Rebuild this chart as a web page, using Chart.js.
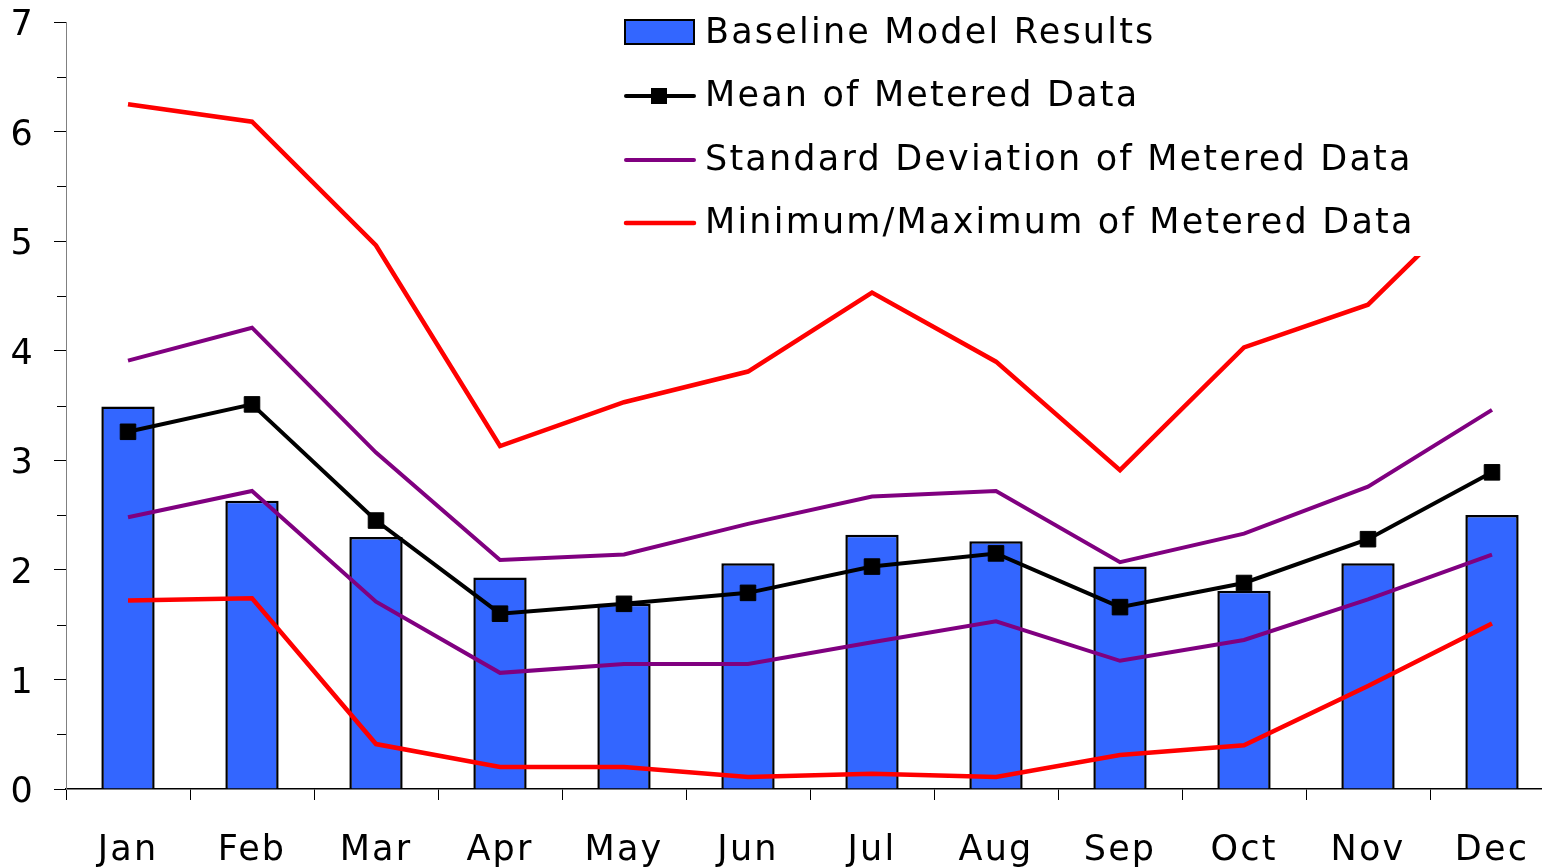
<!DOCTYPE html>
<html>
<head>
<meta charset="utf-8">
<title>Baseline model vs metered data</title>
<script src="https://cdn.jsdelivr.net/npm/chart.js@4.4.1/dist/chart.umd.min.js"></script>
<style>
  html, body { margin: 0; padding: 0; background: #fff; overflow: hidden; width: 1542px; height: 868px; }
  #wrap { position: absolute; left: 0; top: 0; }
</style>
</head>
<body>
<div id="wrap"><canvas id="chart" width="1566" height="868"></canvas></div>
<script>
// Monthly categories
const months = ['Jan', 'Feb', 'Mar', 'Apr', 'May', 'Jun', 'Jul', 'Aug', 'Sep', 'Oct', 'Nov', 'Dec'];

// Model output per month
const baselineModel = [3.49, 2.63, 2.30, 1.93, 1.69, 2.06, 2.32, 2.26, 2.03, 1.81, 2.06, 2.50];

// Metered data statistics per month
const meteredMean = [3.26, 3.51, 2.45, 1.60, 1.69, 1.79, 2.03, 2.15, 1.66, 1.88, 2.28, 2.89];
const stdUpper    = [3.91, 4.21, 3.07, 2.09, 2.14, 2.42, 2.67, 2.72, 2.07, 2.33, 2.76, 3.46];
const stdLower    = [2.48, 2.72, 1.71, 1.06, 1.14, 1.14, 1.34, 1.53, 1.17, 1.36, 1.73, 2.14];
const meteredMax  = [6.25, 6.09, 4.96, 3.13, 3.53, 3.81, 4.53, 3.90, 2.91, 4.03, 4.42, 5.53];
const meteredMin  = [1.72, 1.74, 0.41, 0.20, 0.20, 0.11, 0.14, 0.11, 0.31, 0.40, 0.94, 1.51];

// Value axis
const yMin = 0, yMax = 7, yStep = 1, yMinorStep = 0.5;

// Legend entries (one per series group)
const legendLabels = [
  'Baseline Model Results',
  'Mean of Metered Data',
  'Standard Deviation of Metered Data',
  'Minimum/Maximum of Metered Data'
];

const FONT = '"DejaVu Sans", Verdana, sans-serif';
const BLUE = '#3366FF', PURPLE = '#800080', RED = '#FF0000';

// Minor tick marks on the value axis
const minorTicks = {
  id: 'minorTicks',
  afterDraw(chart) {
    const y = chart.scales.y, ctx = chart.ctx;
    ctx.save();
    ctx.strokeStyle = '#000';
    ctx.lineWidth = 1;
    for (let v = yMin + yMinorStep; v < yMax; v += yStep) {
      const py = Math.round(y.getPixelForValue(v)) + 0.5;
      ctx.beginPath();
      ctx.moveTo(y.right - 9, py);
      ctx.lineTo(y.right, py);
      ctx.stroke();
    }
    ctx.restore();
  }
};

// Letter spacing for tick labels
const spacing = {
  id: 'spacing',
  beforeDraw(chart) { chart.ctx.letterSpacing = '2.2px'; }
};

// Boxed legend drawn over the upper plot area
const boxLegend = {
  id: 'boxLegend',
  afterDraw(chart) {
    const ctx = chart.ctx;
    const x0 = 615, rowY = [33, 96, 160, 223];
    ctx.save();
    ctx.letterSpacing = '2.2px';
    ctx.fillStyle = '#fff';
    ctx.fillRect(x0, 0, chart.width - x0, 256);

    // bar swatch
    ctx.fillStyle = BLUE;
    ctx.fillRect(625, 20, 69, 24);
    ctx.strokeStyle = '#000';
    ctx.lineWidth = 2;
    ctx.strokeRect(625, 20, 69, 24);

    // line swatches
    const lines = [[1, '#000', 4], [2, PURPLE, 4], [3, RED, 4.5]];
    lines.forEach(([r, c, w]) => {
      ctx.strokeStyle = c;
      ctx.lineWidth = w;
      ctx.lineCap = 'round';
      ctx.beginPath();
      ctx.moveTo(626, rowY[r]);
      ctx.lineTo(694, rowY[r]);
      ctx.stroke();
    });
    ctx.fillStyle = '#000';
    ctx.fillRect(651, rowY[1] - 8, 16, 16);

    ctx.fillStyle = '#000';
    ctx.font = '35px ' + FONT;
    ctx.textBaseline = 'middle';
    ctx.textAlign = 'left';
    legendLabels.forEach((t, i) => ctx.fillText(t, 705, rowY[i] + 1));
    ctx.restore();
  }
};

new Chart(document.getElementById('chart'), {
  data: {
    labels: months,
    datasets: [
      { type: 'line', label: legendLabels[1], data: meteredMean, order: 1,
        borderColor: '#000', borderWidth: 4, pointStyle: 'rect', pointRadius: 11,
        pointBackgroundColor: '#000', pointBorderColor: '#000', pointBorderWidth: 1, tension: 0 },
      { type: 'line', label: legendLabels[2], data: stdUpper, order: 2,
        borderColor: PURPLE, borderWidth: 4, pointRadius: 0, tension: 0 },
      { type: 'line', label: legendLabels[2], data: stdLower, order: 2,
        borderColor: PURPLE, borderWidth: 4, pointRadius: 0, tension: 0 },
      { type: 'line', label: legendLabels[3], data: meteredMax, order: 3,
        borderColor: RED, borderWidth: 4.5, pointRadius: 0, tension: 0 },
      { type: 'line', label: legendLabels[3], data: meteredMin, order: 3,
        borderColor: RED, borderWidth: 4.5, pointRadius: 0, tension: 0 },
      { type: 'bar', label: legendLabels[0], data: baselineModel, order: 4,
        backgroundColor: BLUE, borderColor: '#000', borderWidth: 2.5,
        barPercentage: 0.43, categoryPercentage: 1 }
    ]
  },
  options: {
    responsive: false,
    animation: false,
    layout: { padding: { top: 22, right: 6, left: 0, bottom: 0 } },
    plugins: { legend: { display: false }, tooltip: { enabled: false } },
    scales: {
      x: {
        grid: { display: true, offset: true, drawOnChartArea: false, drawTicks: true,
                tickLength: 11, tickColor: '#000', tickWidth: 1 },
        border: { display: true, color: '#000', width: 1.5 },
        ticks: { color: '#000', font: { family: FONT, size: 35 }, padding: 30, maxRotation: 0, autoSkip: false },
        afterFit(scale) {
          scale.height = 868 - 789;
          scale.paddingLeft = 0; scale.paddingRight = 0;
        }
      },
      y: {
        min: yMin, max: yMax,
        grid: { display: true, drawOnChartArea: false, drawTicks: true,
                tickLength: 12, tickColor: '#000', tickWidth: 1 },
        border: { display: true, color: '#808080', width: 1 },
        ticks: { stepSize: yStep, color: '#000', font: { family: FONT, size: 35 }, padding: 19, labelOffset: 4 },
        afterFit(scale) {
          scale.width = 66;
          scale.paddingTop = 0; scale.paddingBottom = 0;
        }
      }
    }
  },
  plugins: [spacing, minorTicks, boxLegend]
});
</script>
</body>
</html>
